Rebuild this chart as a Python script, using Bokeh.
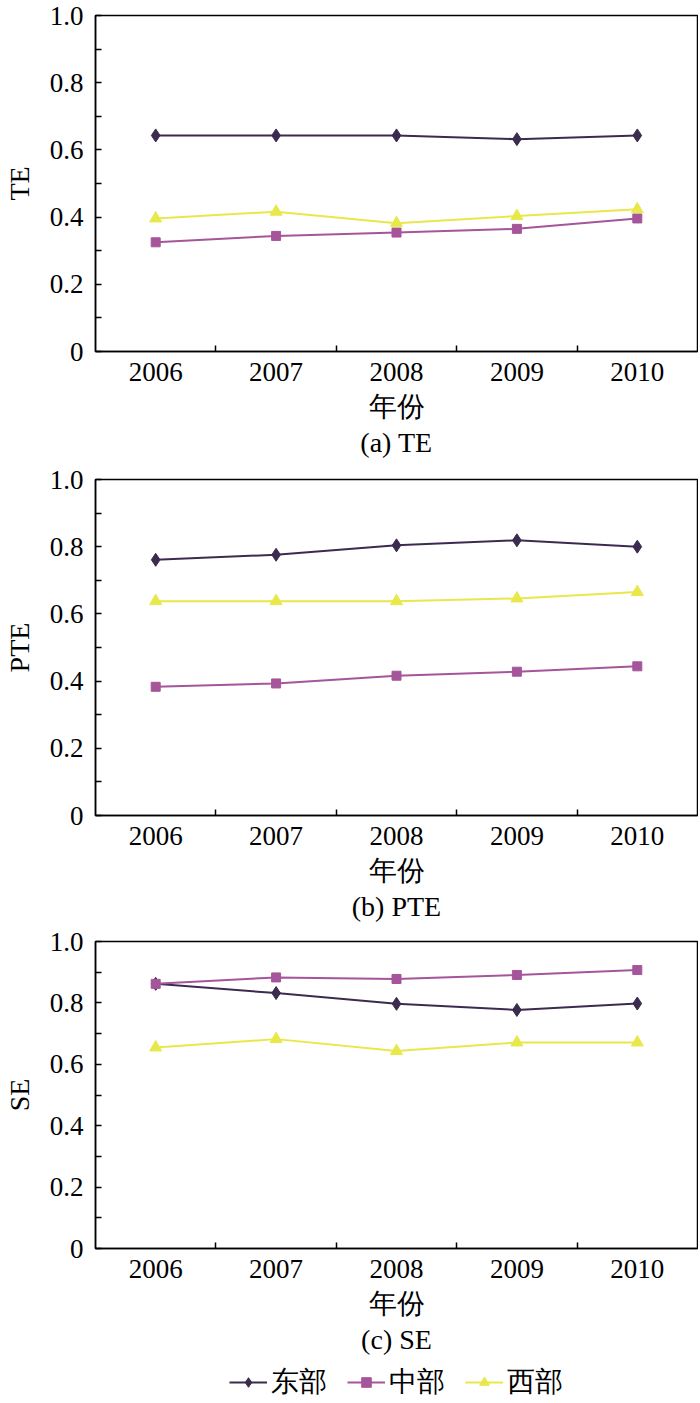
from bokeh.plotting import figure
from bokeh.models import (FixedTicker, CustomJSTickFormatter, Title, Legend,
                          LegendItem, Range1d)
from bokeh.layouts import column
from bokeh.embed import file_html
from bokeh.resources import INLINE

# ---------------- data ----------------
years = ["2006", "2007", "2008", "2009", "2010"]
regions = ["东部", "中部", "西部"]

te_east = [0.643, 0.643, 0.643, 0.632, 0.643]
te_central = [0.325, 0.344, 0.354, 0.365, 0.396]
te_west = [0.396, 0.416, 0.382, 0.403, 0.423]

pte_east = [0.761, 0.776, 0.804, 0.819, 0.800]
pte_central = [0.383, 0.393, 0.416, 0.428, 0.444]
pte_west = [0.638, 0.638, 0.638, 0.646, 0.665]

se_east = [0.862, 0.832, 0.797, 0.777, 0.798]
se_central = [0.862, 0.883, 0.878, 0.891, 0.907]
se_west = [0.655, 0.682, 0.643, 0.671, 0.671]

y_ticks = [0, 0.2, 0.4, 0.6, 0.8, 1.0]
y_minor = [0.1, 0.3, 0.5, 0.7, 0.9]

# ---------------- style ----------------
FONT = "Liberation Serif"
COLORS = ["#3b2b4e", "#a5559a", "#e8e84a"]
MARKERS = ["diamond", "square", "triangle"]
SIZES = [13, 9, 12]

xs = [i + 0.5 for i in range(len(years))]
bounds = [i + 1 for i in range(len(years) - 1)]


def make_panel(ylabel, caption, series, frame_h, top, bottom):
    p = figure(frame_width=602, frame_height=frame_h,
               x_range=Range1d(0, len(years)), y_range=Range1d(0, 1),
               output_backend="svg", toolbar_location=None,
               min_border_left=95, min_border_right=1, min_border_top=top,
               min_border_bottom=bottom)
    p.xgrid.visible = False
    p.ygrid.visible = False
    p.outline_line_color = "black"
    p.outline_line_width = 1.5
    p.background_fill_color = "white"

    xa = p.xaxis[0]
    xa.ticker = FixedTicker(ticks=xs, minor_ticks=bounds)
    xa.major_label_overrides = {x: y for x, y in zip(xs, years)}
    xa.major_tick_in = 0
    xa.major_tick_out = 0
    xa.minor_tick_in = 6
    xa.minor_tick_out = 0
    xa.minor_tick_line_color = "black"
    xa.minor_tick_line_width = 1.5
    xa.axis_line_color = "black"
    xa.axis_line_width = 1.5
    xa.major_label_text_font = FONT
    xa.major_label_text_font_size = "27px"
    xa.major_label_text_color = "black"
    xa.major_label_standoff = 11
    xa.axis_label = "年份"
    xa.axis_label_text_font = FONT
    xa.axis_label_text_font_size = "28px"
    xa.axis_label_text_font_style = "normal"
    xa.axis_label_text_color = "black"
    xa.axis_label_standoff = 7

    ya = p.yaxis[0]
    ya.ticker = FixedTicker(ticks=y_ticks, minor_ticks=y_minor)
    ya.formatter = CustomJSTickFormatter(
        code="return tick == 0 ? '0' : tick.toFixed(1);")
    ya.major_tick_in = 6
    ya.major_tick_out = 0
    ya.minor_tick_in = 6
    ya.minor_tick_out = 0
    ya.major_tick_line_width = 1.5
    ya.minor_tick_line_width = 1.5
    ya.major_tick_line_color = "black"
    ya.minor_tick_line_color = "black"
    ya.axis_line_color = "black"
    ya.axis_line_width = 1.5
    ya.major_label_text_font = FONT
    ya.major_label_text_font_size = "27px"
    ya.major_label_text_color = "black"
    ya.major_label_standoff = 12
    ya.axis_label = ylabel
    ya.axis_label_text_font = FONT
    ya.axis_label_text_font_size = "28px"
    ya.axis_label_text_font_style = "normal"
    ya.axis_label_text_color = "black"
    ya.axis_label_standoff = 12

    for vals, color, marker, size in zip(series, COLORS, MARKERS, SIZES):
        p.line(xs, vals, line_color=color, line_width=2)
        p.scatter(xs, vals, marker=marker, size=size,
                  fill_color=color, line_color=color)

    p.add_layout(Title(text=caption, align="center", text_font=FONT,
                       text_font_size="28px", text_font_style="normal",
                       text_color="black", standoff=1), "below")
    return p


pa = make_panel("TE", "(a) TE", [te_east, te_central, te_west], 336, 15, 112)
pb = make_panel("PTE", "(b) PTE", [pte_east, pte_central, pte_west], 336, 16, 110)
pc = make_panel("SE", "(c) SE", [se_east, se_central, se_west], 307, 16, 114)

# legend strip under the last panel (legend-only renderers, hidden)
pl = figure(frame_width=602, frame_height=40,
            x_range=Range1d(0, len(years)), y_range=Range1d(0, 1),
            output_backend="svg", toolbar_location=None,
            x_axis_type=None, y_axis_type=None,
            min_border=0, min_border_left=95, min_border_right=1)
pl.xgrid.visible = False
pl.ygrid.visible = False
pl.outline_line_color = None
items = []
for vals, color, marker, size, name in zip([se_east, se_central, se_west],
                                           COLORS, MARKERS, SIZES, regions):
    r1 = pl.line(xs, vals, line_color=color, line_width=2, visible=False)
    r2 = pl.scatter(xs, vals, marker=marker, size=size - 2, fill_color=color,
                    line_color=color, visible=False)
    items.append(LegendItem(label=name, renderers=[r1, r2]))
leg = Legend(items=items, orientation="horizontal", location="center",
             border_line_color=None, background_fill_alpha=0,
             label_text_font=FONT, label_text_font_size="28px",
             label_text_color="black", glyph_width=38, glyph_height=24,
             label_standoff=4, spacing=20, padding=0, margin=0,
             click_policy="none")
pl.add_layout(leg, "center")

layout = column(pa, pb, pc, pl, spacing=0)
open("out.html", "w").write(file_html(layout, INLINE))
